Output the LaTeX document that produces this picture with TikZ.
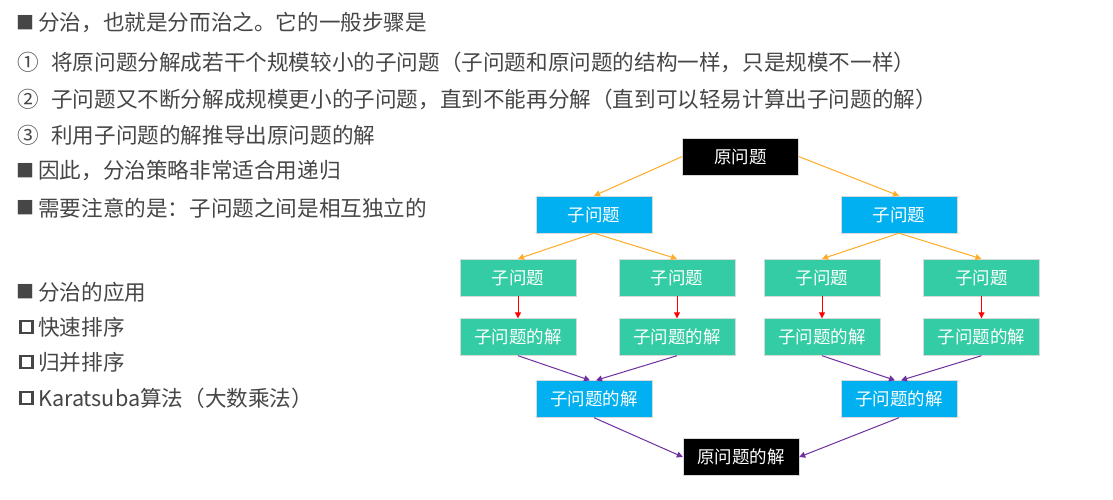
\documentclass[tikz,border=0pt]{standalone}
\usepackage{fontspec}
\setmainfont{Noto Sans CJK SC}
\newfontfamily\cjk{Noto Sans CJK SC}
\usetikzlibrary{arrows.meta}
\definecolor{txtgray}{RGB}{70,70,70}
\definecolor{cyanbox}{RGB}{0,176,240}
\definecolor{greenbox}{RGB}{52,204,164}
\definecolor{orangearr}{RGB}{255,172,40}
\definecolor{purplearr}{RGB}{112,48,160}
\begin{document}
\begin{tikzpicture}[x=1pt,y=-1pt,
  lineitem/.style={anchor=west,inner sep=0pt,text=txtgray,font=\cjk\fontsize{21.6}{21.6}\selectfont},
  bul/.style={anchor=west,inner sep=0pt,text=txtgray,font=\cjk\fontsize{18}{18}\selectfont},
  hbul/.style={draw=txtgray,line width=2.4pt,minimum size=12pt,inner sep=0pt},
  nbox/.style={minimum width=116pt,minimum height=37pt,inner sep=0pt,text=white,font=\cjk\fontsize{17.5}{17.5}\selectfont,draw=white!85!black,line width=0.4pt},
  blackbox/.style={nbox,fill=black},
  bluebox/.style={nbox,fill=cyanbox},
  greenb/.style={nbox,fill=greenbox},
  tipA/.style={-{Triangle[length=6pt,width=6pt]}},
  oarr/.style={tipA,draw=orangearr,line width=1pt},
  rarr/.style={tipA,draw=red,line width=1pt},
  parr/.style={tipA,draw=purplearr,line width=1pt}
]
\useasboundingbox (0,0) rectangle (1113,500);
\fill[white] (0,0) rectangle (1113,500);

% left text
\node[bul] (b1) at (16,23) {■};
\node[lineitem] (t1) at (38,23) {分治，也就是分而治之。它的一般步骤是};
\node[lineitem] (n1) at (17,62) {①};
\node[lineitem] (t2) at (51,62) {将原问题分解成若干个规模较小的子问题（子问题和原问题的结构一样，只是规模不一样）};
\node[lineitem] (n2) at (17,99) {②};
\node[lineitem] (t3) at (51,99) {子问题又不断分解成规模更小的子问题，直到不能再分解（直到可以轻易计算出子问题的解）};
\node[lineitem] (n3) at (17,135) {③};
\node[lineitem] (t4) at (51,135) {利用子问题的解推导出原问题的解};
\node[bul] (b5) at (16,171) {■};
\node[lineitem] (t5) at (38,171) {因此，分治策略非常适合用递归};
\node[bul] (b6) at (16,208) {■};
\node[lineitem] (t6) at (38,208) {需要注意的是：子问题之间是相互独立的};
\node[bul] (b7) at (16,292) {■};
\node[lineitem] (t7) at (38,292) {分治的应用};
\node[hbul] (b8) at (26.5,327) {};
\node[lineitem] (t8) at (38,327) {快速排序};
\node[hbul] (b9) at (26.5,362) {};
\node[lineitem] (t9) at (38,362) {归并排序};
\node[hbul] (b10) at (26.5,398) {};
\node[lineitem] (t10) at (38,398) {Karatsuba算法（大数乘法）};

% diagram
\node[blackbox] (root) at (740.5,156.5) {原问题};
\node[bluebox] (sL) at (594,214.5) {子问题};
\node[bluebox] (sR) at (899,214.5) {子问题};
\node[greenb] (g1) at (518,277.5) {子问题};
\node[greenb] (g2) at (677,277.5) {子问题};
\node[greenb] (g3) at (822,277.5) {子问题};
\node[greenb] (g4) at (981.5,277.5) {子问题};
\node[greenb] (h1) at (518,337) {子问题的解};
\node[greenb] (h2) at (677,337) {子问题的解};
\node[greenb] (h3) at (822,337) {子问题的解};
\node[greenb] (h4) at (981.5,337) {子问题的解};
\node[bluebox] (uL) at (594,399) {子问题的解};
\node[bluebox] (uR) at (899,399) {子问题的解};
\node[blackbox] (fin) at (741,457) {原问题的解};

\draw[oarr] (root.west) -- (sL.north);
\draw[oarr] (root.east) -- (sR.north);
\draw[oarr] (sL.south) -- (g1.north);
\draw[oarr] (sL.south) -- (g2.north);
\draw[oarr] (sR.south) -- (g3.north);
\draw[oarr] (sR.south) -- (g4.north);
\draw[rarr] (g1.south) -- (h1.north);
\draw[rarr] (g2.south) -- (h2.north);
\draw[rarr] (g3.south) -- (h3.north);
\draw[rarr] (g4.south) -- (h4.north);
\draw[parr] (h1.south) -- ([xshift=-4pt]uL.north);
\draw[parr] (h2.south) -- ([xshift=2pt]uL.north);
\draw[parr] (h3.south) -- ([xshift=-4pt]uR.north);
\draw[parr] (h4.south) -- ([xshift=2pt]uR.north);
\draw[parr] (uL.south) -- (fin.west);
\draw[parr] (uR.south) -- (fin.east);
\end{tikzpicture}
\end{document}
